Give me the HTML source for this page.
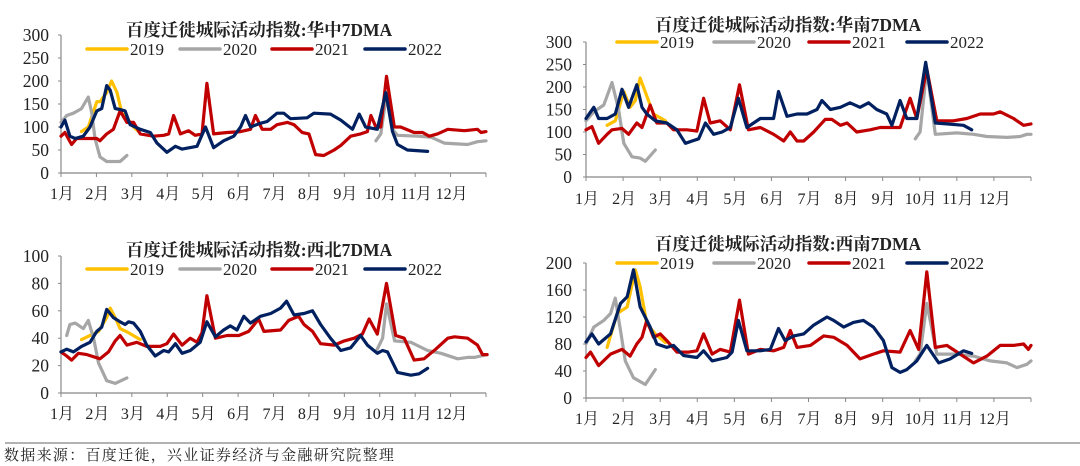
<!DOCTYPE html>
<html><head><meta charset="utf-8">
<style>
html,body{margin:0;padding:0;background:#fff;}
body{width:1080px;height:466px;overflow:hidden;position:relative;}
svg{position:absolute;left:0;top:0;}
text{font-family:"Liberation Serif","Noto Serif CJK SC",serif;fill:#222;}
</style></head>
<body>
<svg id="chart" width="1080" height="466" viewBox="0 0 1080 466"></svg>
<script>
// ---- data (x in months from Jan 1, value = index) ----
const monthLabels = ["1月","2月","3月","4月","5月","6月","7月","8月","9月","10月","11月","12月"];
const seriesNames = ["2019","2020","2021","2022"];
const colors = ["#FFC000","#A6A6A6","#C00000","#002060"];

// 华中
const hz19m=[.58,.77,1.01,1.1,1.29,1.43,1.58,1.72,1.91,2.05,2.19];
const hz19v=[90,100,155,155,175,200,175,130,115,100,90];
const hz20am=[0,.16,.35,.58,.77,.87,.96,1.1,1.29,1.48,1.67,1.86];
const hz20av=[110,125,130,140,165,130,75,35,25,25,25,38];
const hz20bm=[8.89,9.03,9.19,9.36,9.5,10.07,10.44,10.82,11.48,11.76,12];
const hz20bv=[70,85,170,95,82,80,78,65,62,68,70];
const hz21m=[0,.11,.3,.44,.73,1.01,1.1,1.29,1.48,1.67,1.86,2.05,2.24,2.61,2.9,3.04,3.18,3.37,3.6,3.79,3.98,4.12,4.31,4.69,5.07,5.35,5.49,5.68,5.92,6.1,6.39,6.58,6.81,7,7.19,7.42,7.71,7.9,8.18,8.46,8.65,8.75,8.89,9.03,9.19,9.41,9.59,9.97,10.21,10.4,10.63,10.92,11.39,11.76,11.86,12];
const hz21v=[80,88,62,75,75,75,70,85,95,135,110,110,85,80,82,85,125,85,92,82,85,195,85,88,90,95,125,95,95,105,110,105,88,85,40,38,50,60,80,85,90,125,100,100,210,100,100,88,88,80,85,95,92,95,88,90];
const hz22m=[0,.11,.25,.4,.63,.82,1.01,1.15,1.29,1.39,1.53,1.67,1.81,1.95,2.24,2.52,2.71,2.99,3.23,3.42,3.84,4.08,4.31,4.59,4.88,5.07,5.21,5.35,5.63,5.82,6.1,6.29,6.48,6.95,7.14,7.61,7.9,8.23,8.42,8.6,8.93,9.17,9.36,9.5,9.78,10.35];
const hz22v=[100,115,80,75,80,100,135,140,190,180,140,138,135,105,95,88,65,45,58,52,58,100,55,70,80,100,125,100,108,112,130,130,118,120,130,128,115,95,128,100,95,175,90,62,50,47];

// 华南
const hn19m=[.57,.79,1.02,1.19,1.33,1.46,1.64,1.82,2.14];
const hn19v=[115,125,190,155,170,220,180,140,125];
const hn20am=[0,.21,.48,.7,.88,1.02,1.24,1.46,1.6,1.87];
const hn20av=[125,145,160,210,150,75,45,42,35,60];
const hn20bm=[8.88,9.01,9.19,9.42,10,10.45,10.81,11.35,11.71,11.89,12];
const hn20bv=[85,100,240,95,98,95,90,88,90,95,95];
const hn21m=[0,.16,.34,.57,.7,.97,1.15,1.37,1.51,1.73,1.91,2.18,2.36,2.72,2.99,3.17,3.35,3.62,3.89,4.14,4.38,4.7,5.06,5.33,5.51,5.69,5.87,6.14,6.45,6.63,6.86,7.04,7.3,7.66,7.93,8.47,8.74,8.92,9.19,9.46,9.91,10.27,10.63,10.99,11.17,11.53,11.8,12];
const hn21v=[105,112,75,95,105,108,95,120,110,160,120,120,105,105,102,175,120,125,105,205,105,110,95,80,100,80,80,100,128,128,115,120,100,105,110,110,175,130,240,125,125,130,140,140,145,130,115,118];
const hn22m=[0,.21,.34,.57,.79,.97,1.15,1.37,1.51,1.64,1.87,2.18,2.45,2.68,2.86,3.04,3.22,3.44,3.67,3.89,4.11,4.34,4.7,5.06,5.19,5.42,5.69,5.96,6.23,6.36,6.59,6.86,7.12,7.39,7.62,7.84,8.11,8.25,8.47,8.65,8.92,9.16,9.42,9.73,10.18,10.4];
const hn22v=[130,155,130,130,140,195,155,205,155,140,125,120,105,75,80,85,120,95,100,110,175,110,130,130,190,135,140,140,150,170,150,155,165,155,165,150,140,115,170,130,130,255,120,118,115,105];

// 西北
const xb19m=[.58,.82,1.06,1.29,1.39,1.53,1.67,1.91,2.24];
const xb19v=[39,42,45,55,62,55,47,44,39];
const xb20am=[.16,.25,.4,.63,.77,.92,1.06,1.29,1.53,1.86];
const xb20av=[42,50,51,47,53,40,22,9,7,11];
const xb20bm=[8.89,9.08,9.19,9.42,9.88,10.35,10.73,11.2,11.48,11.67,12.03];
const xb20bv=[30,40,65,38,37,31,29,25,26,26,28];
const xb21m=[0,.16,.3,.49,.73,1.1,1.34,1.53,1.67,1.86,2.14,2.42,2.8,2.99,3.18,3.42,3.65,3.84,3.98,4.12,4.36,4.69,5.02,5.3,5.58,5.73,6.2,6.43,6.71,6.86,7.1,7.33,7.71,8,8.28,8.51,8.7,8.93,9.19,9.45,9.69,9.97,10.25,10.58,10.92,11.11,11.48,11.76,11.9,12.03];
const xb21v=[30,27,24,29,28,25,30,38,42,35,37,34,34,36,43,35,40,37,44,71,40,42,42,45,54,45,46,53,56,50,45,36,35,38,40,43,54,43,80,42,40,24,25,32,40,41,40,35,28,28];
const xb22m=[0,.16,.35,.58,.82,1.01,1.15,1.29,1.48,1.67,1.81,1.91,2.05,2.24,2.42,2.66,2.9,3.04,3.23,3.42,3.65,3.93,4.12,4.36,4.59,4.78,4.97,5.16,5.35,5.63,5.92,6.2,6.37,6.58,6.86,7.1,7.33,7.61,7.9,8.18,8.46,8.65,8.93,9.08,9.22,9.5,9.88,10.11,10.35];
const xb22v=[30,32,30,34,37,45,48,61,55,52,50,52,51,45,35,27,31,30,36,29,31,37,52,41,46,49,46,56,51,56,58,62,67,57,58,60,50,40,31,33,42,35,29,31,30,15,13,14,18];

// 西南
const xn19m=[.57,.84,1.11,1.33,1.46,1.64,1.87,2.14];
const xn19v=[75,125,135,190,165,110,95,82];
const xn20am=[0,.21,.48,.66,.79,.93,1.06,1.28,1.6,1.87];
const xn20av=[80,105,115,125,148,100,55,30,20,42];
const xn20bm=[8.88,9.01,9.19,9.46,10,10.45,10.9,11.35,11.62,11.89,12];
const xn20bv=[55,65,140,65,65,62,55,52,45,50,55];
const xn21m=[0,.12,.34,.66,.97,1.19,1.37,1.51,1.64,1.82,2,2.18,2.45,2.77,2.99,3.17,3.4,3.62,3.89,4.14,4.38,4.7,5.06,5.33,5.51,5.69,6.05,6.41,6.68,7.04,7.39,7.75,8.02,8.47,8.74,8.97,9.19,9.42,9.73,10.09,10.45,10.81,11.17,11.53,11.8,11.93,12];
const xn21v=[60,68,48,65,72,62,80,90,115,90,95,85,68,68,70,95,65,72,68,145,65,72,70,75,100,75,78,92,90,78,58,65,70,68,100,72,187,75,78,65,52,62,78,78,80,72,78];
const xn22m=[0,.16,.34,.66,.93,1.11,1.28,1.46,1.73,1.91,2.18,2.36,2.63,2.99,3.17,3.4,3.8,3.94,4.11,4.34,4.7,4.97,5.19,5.37,5.6,5.87,6.14,6.5,6.68,6.95,7.21,7.48,7.75,8.02,8.25,8.47,8.65,8.92,9.19,9.51,9.82,10.18,10.4];
const xn22v=[83,95,80,95,140,150,190,135,105,80,75,78,63,60,70,55,60,68,115,70,70,72,103,85,92,95,108,120,115,105,112,115,105,85,45,38,42,55,78,52,58,70,66];

const yTicksHZ=[0,50,100,150,200,250,300];
const yTicksXB=[0,20,40,60,80,100];
const yTicksXN=[0,40,80,120,160,200];

const panels=[
 {key:"huazhong",title:"百度迁徙城际活动指数:华中7DMA",x0:61,x1:486,yb:173,yt:35,max:300,ticks:yTicksHZ,ylx:49,tx:259,ty:36,ly:49,lx:[87,180,272,365],mly:199,
  s:[[[hz19m,hz19v]],[[hz20am,hz20av],[hz20bm,hz20bv]],[[hz21m,hz21v]],[[hz22m,hz22v]]]},
 {key:"huanan",title:"百度迁徙城际活动指数:华南7DMA",x0:586,x1:1031,yb:177,yt:42,max:300,ticks:yTicksHZ,ylx:572,tx:788,ty:31,ly:42,lx:[617,714,809,907],mly:204,
  s:[[[hn19m,hn19v]],[[hn20am,hn20av],[hn20bm,hn20bv]],[[hn21m,hn21v]],[[hn22m,hn22v]]]},
 {key:"xibei",title:"百度迁徙城际活动指数:西北7DMA",x0:61,x1:486,yb:393,yt:256,max:100,ticks:yTicksXB,ylx:49,tx:259,ty:256,ly:269,lx:[87,180,272,365],mly:419,
  s:[[[xb19m,xb19v]],[[xb20am,xb20av],[xb20bm,xb20bv]],[[xb21m,xb21v]],[[xb22m,xb22v]]]},
 {key:"xinan",title:"百度迁徙城际活动指数:西南7DMA",x0:586,x1:1031,yb:398,yt:263,max:200,ticks:yTicksXN,ylx:572,tx:788,ty:250,ly:263,lx:[617,714,809,907],mly:424,
  s:[[[xn19m,xn19v]],[[xn20am,xn20av],[xn20bm,xn20bv]],[[xn21m,xn21v]],[[xn22m,xn22v]]]}
];

const NS="http://www.w3.org/2000/svg";
const svg=document.getElementById("chart");
function mk(tag,attrs,parent){const e=document.createElementNS(NS,tag);for(const k in attrs)e.setAttribute(k,attrs[k]);(parent||svg).appendChild(e);return e;}

panels.forEach(p=>{
  const g=mk("g",{});
  
  
  const xs=m=>p.x0+m*(p.x1-p.x0)/12;
  const ys=v=>p.yb-v*(p.yb-p.yt)/p.max;
  const ya=mk("line",{x1:p.x0,y1:p.yt,x2:p.x0,y2:p.yb,stroke:"#888","stroke-width":1.2},g);
  
  
  const xa=mk("line",{x1:p.x0,y1:p.yb,x2:p.x1,y2:p.yb,stroke:"#888","stroke-width":1.2},g);
  
  
  p.ticks.forEach(t=>{
    mk("line",{x1:p.x0-3,y1:ys(t),x2:p.x0,y2:ys(t),stroke:"#888"},g);
    const tl=mk("text",{x:p.ylx,y:ys(t)+6,"text-anchor":"end","font-size":17.5},g);
    tl.textContent=t;
    
    
  });
  for(let i=0;i<=12;i++) mk("line",{x1:xs(i),y1:p.yb,x2:xs(i),y2:p.yb+4,stroke:"#888"},g);
  monthLabels.forEach((ml,i)=>{
    const t=mk("text",{x:xs(i)+1,y:p.mly,"text-anchor":"middle","font-size":16},g);
    t.textContent=ml;
    
    
  });
  const tt=mk("text",{x:p.tx,y:p.ty,"text-anchor":"middle","font-size":17.5,"font-weight":"bold"},g);
  tt.textContent=p.title;
  
  
  seriesNames.forEach((n,i)=>{
    const lg=mk("g",{},g);
    
    
    mk("line",{x1:p.lx[i],y1:p.ly,x2:p.lx[i]+40,y2:p.ly,stroke:colors[i],"stroke-width":3.5,"stroke-linecap":"round"},lg);
    const lt=mk("text",{x:p.lx[i]+43,y:p.ly+6,"font-size":17},lg);
    lt.textContent=n;
  });
  p.s.forEach((segs,i)=>{
    segs.forEach(([ms,vs])=>{
      const d=ms.map((m,j)=>(j?"L":"M")+xs(m).toFixed(1)+","+ys(vs[j]).toFixed(1)).join("");
      const path=mk("path",{d:d,fill:"none",stroke:colors[i],"stroke-width":3.2,"stroke-linejoin":"round","stroke-linecap":"round"},g);
      
      
    });
  });
});

const sep=mk("line",{x1:5,y1:443,x2:1080,y2:443,stroke:"#666","stroke-width":1});


const src=mk("text",{x:4,y:460,"font-size":15,"letter-spacing":"1.3"});
src.textContent="数据来源：百度迁徙，兴业证券经济与金融研究院整理";


</script>
</body></html>
